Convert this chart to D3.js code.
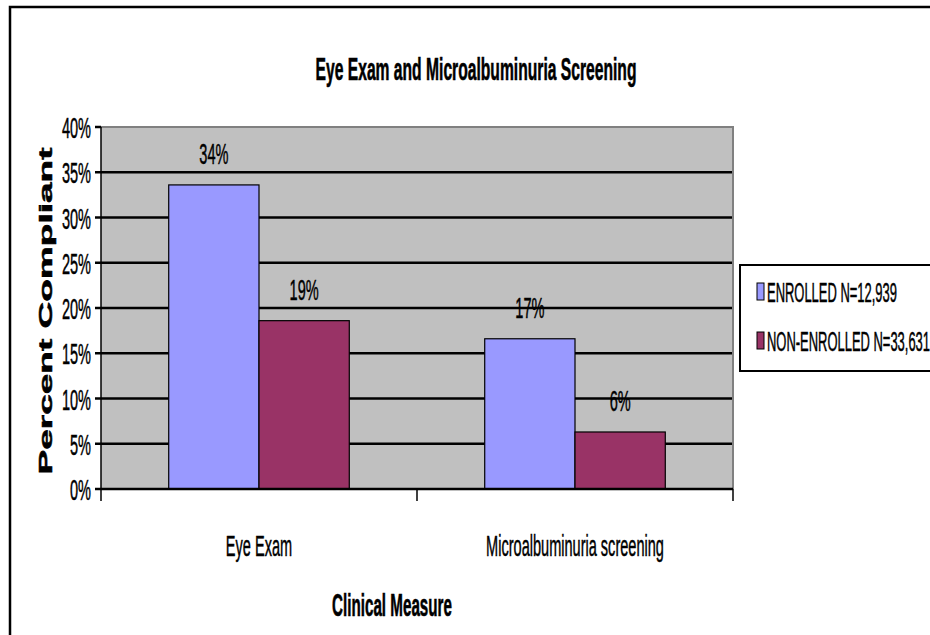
<!DOCTYPE html>
<html><head><meta charset="utf-8">
<script src="https://cdn.jsdelivr.net/npm/d3@7"></script>
<style>html,body{margin:0;padding:0;background:#fff;overflow:hidden}</style>
</head><body>
<svg id="c" width="930" height="635"></svg>
<script>
const categories = ["Eye Exam", "Microalbuminuria screening"];
const seriesNames = ["ENROLLED N=12,939", "NON-ENROLLED N=33,631"];
const enrolled = [0.336, 0.166];
const nonEnrolled = [0.186, 0.063];
const valueLabels = [["34%", "17%"], ["19%", "6%"]];
const yTicks = [0, 0.05, 0.10, 0.15, 0.20, 0.25, 0.30, 0.35, 0.40];
const title = "Eye Exam and Microalbuminuria Screening";
const xTitle = "Clinical Measure";
const yTitle = "Percent Compliant";
const colors = ["#9999FF", "#993366"];

const series = [enrolled, nonEnrolled];
const svg = d3.select("#c");
const FONT = "'Liberation Sans', Arial, sans-serif";
const FS = 30;
const SX = 0.485;

// outer chart border
svg.append("path").attr("d", "M10,636 L10,7 L932,7")
  .attr("fill", "none").attr("stroke", "#000").attr("stroke-width", 2.5);

const L = 101, R = 733, T = 127, B = 489;
const x0 = d3.scaleBand().domain(categories).range([L, R]);
const x1 = d3.scaleBand().domain([0, 1]).range([0, x0.bandwidth()]).paddingOuter(0.75);
const y = d3.scaleLinear().domain([0, 0.4]).range([B, T]);

function sText(g, str, x, yy, size, anchor, weight, sx, sw) {
  return g.append("text").text(str)
    .attr("transform", `translate(${x},${yy}) scale(${sx},1)`)
    .attr("text-anchor", anchor)
    .attr("font-family", FONT)
    .attr("font-size", size)
    .attr("font-weight", weight || "normal")
    .attr("fill", "#000")
    .attr("stroke", "#000")
    .attr("stroke-width", sw === undefined ? 0.5 : sw);
}

// plot background
svg.append("rect").attr("x", L).attr("y", T).attr("width", R - L).attr("height", B - T)
  .attr("fill", "#C0C0C0");

// gridlines
svg.append("g").selectAll("line").data(yTicks.filter(t => t > 0 && t < 0.4)).join("line")
  .attr("x1", L).attr("x2", R).attr("y1", d => y(d)).attr("y2", d => y(d))
  .attr("stroke", "#000").attr("stroke-width", 2.5);

// plot border top & right
svg.append("path").attr("d", `M${L},${T} L${R},${T} L${R},${B}`)
  .attr("fill", "none").attr("stroke", "#808080").attr("stroke-width", 2);

// bars
const bars = svg.append("g");
series.forEach((s, si) => {
  bars.selectAll(null).data(categories).join("rect")
    .attr("x", c => x0(c) + x1(si))
    .attr("y", (c, i) => y(s[i]))
    .attr("width", x1.bandwidth())
    .attr("height", (c, i) => B - y(s[i]))
    .attr("fill", colors[si]).attr("stroke", "#000").attr("stroke-width", 1.2);
});

// value labels
const lab = svg.append("g");
series.forEach((s, si) => {
  categories.forEach((c, i) => {
    sText(lab, valueLabels[si][i], x0(c) + x1(si) + x1.bandwidth() / 2, y(s[i]) - 21, FS, "middle", "normal", SX);
  });
});

// y axis
const yAxis = svg.append("g");
yAxis.append("line").attr("x1", L).attr("x2", L).attr("y1", T).attr("y2", B)
  .attr("stroke", "#000").attr("stroke-width", 1.5);
yAxis.selectAll("line.t").data(yTicks).join("line").attr("class", "t")
  .attr("x1", L - 6).attr("x2", L).attr("y1", d => y(d)).attr("y2", d => y(d))
  .attr("stroke", "#000").attr("stroke-width", 2.5);
yTicks.forEach(t => {
  sText(yAxis, d3.format(".0%")(t), L - 10, y(t) + 11, FS, "end", "normal", SX);
});

// x axis
const xAxis = svg.append("g");
xAxis.append("line").attr("x1", L).attr("x2", R).attr("y1", B).attr("y2", B)
  .attr("stroke", "#000").attr("stroke-width", 2.5);
const bounds = categories.map(c => x0(c)).concat([R]);
xAxis.selectAll("line.t").data(bounds).join("line").attr("class", "t")
  .attr("x1", d => d).attr("x2", d => d).attr("y1", B).attr("y2", B + 12)
  .attr("stroke", "#000").attr("stroke-width", 1.5);
categories.forEach(c => {
  sText(xAxis, c, x0(c) + x0.bandwidth() / 2, 556, FS, "middle", "normal", SX);
});

// titles
sText(svg, title, 476, 80, 31, "middle", "bold", 0.505, 0.6);
sText(svg, xTitle, 392, 616, 31, "middle", "bold", 0.49, 0.6);
svg.append("text").text(yTitle)
  .attr("transform", "translate(52,311) rotate(-90)")
  .attr("text-anchor", "middle")
  .attr("font-family", FONT).attr("font-size", 19).attr("font-weight", "bold")
  .attr("stroke", "#000").attr("stroke-width", 0.5)
  .attr("textLength", 327).attr("lengthAdjust", "spacingAndGlyphs");

// legend
const lg = svg.append("g");
lg.append("rect").attr("x", 740).attr("y", 265).attr("width", 200).attr("height", 106)
  .attr("fill", "#fff").attr("stroke", "#000").attr("stroke-width", 2);
seriesNames.forEach((n, i) => {
  const yy = 283 + i * 49;
  lg.append("rect").attr("x", 757).attr("y", yy).attr("width", 7).attr("height", 17)
    .attr("fill", colors[i]).attr("stroke", "#000").attr("stroke-width", 1);
  sText(lg, n, 767, yy + 19, 27, "start", "normal", 0.48);
});
</script>
</body></html>
